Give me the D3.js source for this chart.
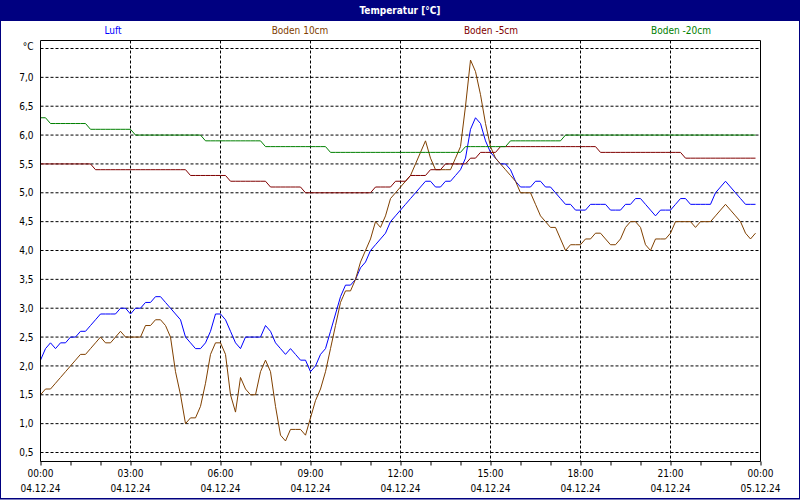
<!DOCTYPE html>
<html><head><meta charset="utf-8">
<script src="https://cdn.jsdelivr.net/npm/d3@7"></script>
<style>
html,body{margin:0;padding:0;background:#fff;}
svg{display:block;}
text{font-family:"DejaVu Sans Condensed","DejaVu Sans",sans-serif;font-stretch:condensed;font-size:10px;}
</style></head><body>
<svg id="chart" width="800" height="500"></svg>
<script>
const chartTitle = "Temperatur [°C]";
const seriesNames = ["Luft", "Boden 10cm", "Boden -5cm", "Boden -20cm"];
const seriesColors = ["#0000ff", "#804000", "#800000", "#008000"];
const sampleStepMinutes = 10;

const luft = [
 2.1,2.3,2.4,2.3,2.4,2.4,2.5,2.5,2.6,2.6,
 2.7,2.8,2.9,2.9,2.9,2.9,3.0,3.0,2.9,3.0,
 3.0,3.1,3.1,3.2,3.2,3.1,3.0,2.9,2.8,2.5,
 2.4,2.3,2.3,2.4,2.6,2.9,2.9,2.8,2.6,2.4,
 2.3,2.5,2.5,2.5,2.5,2.7,2.6,2.4,2.3,2.2,
 2.3,2.2,2.1,2.1,1.9,2.0,2.2,2.3,2.6,2.9,
 3.2,3.4,3.4,3.5,3.7,3.8,4.0,4.1,4.2,4.3,
 4.5,4.6,4.7,4.8,4.9,5.0,5.1,5.2,5.2,5.1,
 5.1,5.2,5.2,5.3,5.4,5.6,6.1,6.3,6.2,5.9,
 5.7,5.6,5.5,5.5,5.4,5.2,5.1,5.1,5.1,5.2,
 5.2,5.1,5.1,5.0,4.9,4.8,4.8,4.7,4.7,4.7,
 4.8,4.8,4.8,4.8,4.7,4.7,4.7,4.8,4.8,4.9,
 4.9,4.8,4.7,4.6,4.7,4.7,4.7,4.8,4.9,4.9,
 4.8,4.8,4.8,4.8,4.8,5.0,5.1,5.2,5.1,5.0,
 4.9,4.8,4.8,4.8
];
const boden10 = [
 1.5,1.6,1.6,1.7,1.8,1.9,2.0,2.1,2.2,2.2,
 2.3,2.4,2.5,2.4,2.4,2.5,2.6,2.5,2.5,2.5,
 2.5,2.7,2.7,2.8,2.8,2.7,2.5,1.9,1.5,1.0,
 1.1,1.1,1.3,1.7,2.2,2.4,2.4,2.2,1.5,1.2,
 1.8,1.6,1.5,1.5,1.9,2.1,1.9,1.3,0.8,0.7,
 0.9,0.9,0.9,0.8,1.1,1.4,1.6,1.9,2.3,2.7,
 3.1,3.3,3.3,3.5,3.8,4.0,4.2,4.5,4.4,4.6,
 4.9,5.0,5.1,5.2,5.3,5.5,5.7,5.9,5.6,5.4,
 5.4,5.4,5.4,5.6,5.8,6.5,7.3,7.1,6.7,6.2,
 5.8,5.6,5.5,5.4,5.3,5.2,5.0,5.0,5.0,4.8,
 4.6,4.5,4.4,4.4,4.2,4.0,4.1,4.1,4.1,4.2,
 4.2,4.3,4.3,4.2,4.1,4.1,4.2,4.4,4.5,4.5,
 4.4,4.1,4.0,4.2,4.2,4.2,4.3,4.5,4.5,4.5,
 4.5,4.4,4.5,4.5,4.5,4.6,4.7,4.8,4.7,4.6,
 4.5,4.3,4.2,4.3
];
const bodenMinus5 = [
 5.5,5.5,5.5,5.5,5.5,5.5,5.5,5.5,5.5,5.5,
 5.5,5.4,5.4,5.4,5.4,5.4,5.4,5.4,5.4,5.4,
 5.4,5.4,5.4,5.4,5.4,5.4,5.4,5.4,5.4,5.4,
 5.3,5.3,5.3,5.3,5.3,5.3,5.3,5.3,5.2,5.2,
 5.2,5.2,5.2,5.2,5.2,5.2,5.1,5.1,5.1,5.1,
 5.1,5.1,5.1,5.0,5.0,5.0,5.0,5.0,5.0,5.0,
 5.0,5.0,5.0,5.0,5.0,5.0,5.0,5.1,5.1,5.1,
 5.1,5.2,5.2,5.2,5.3,5.3,5.3,5.3,5.4,5.4,
 5.4,5.5,5.5,5.5,5.5,5.5,5.6,5.6,5.7,5.7,
 5.7,5.7,5.8,5.8,5.8,5.8,5.8,5.8,5.8,5.8,
 5.8,5.8,5.8,5.8,5.8,5.8,5.8,5.8,5.8,5.8,
 5.8,5.8,5.7,5.7,5.7,5.7,5.7,5.7,5.7,5.7,
 5.7,5.7,5.7,5.7,5.7,5.7,5.7,5.7,5.7,5.6,
 5.6,5.6,5.6,5.6,5.6,5.6,5.6,5.6,5.6,5.6,
 5.6,5.6,5.6,5.6
];
const bodenMinus20 = [
 6.3,6.3,6.2,6.2,6.2,6.2,6.2,6.2,6.2,6.2,
 6.1,6.1,6.1,6.1,6.1,6.1,6.1,6.1,6.1,6.0,
 6.0,6.0,6.0,6.0,6.0,6.0,6.0,6.0,6.0,6.0,
 6.0,6.0,6.0,5.9,5.9,5.9,5.9,5.9,5.9,5.9,
 5.9,5.9,5.9,5.9,5.9,5.8,5.8,5.8,5.8,5.8,
 5.8,5.8,5.8,5.8,5.8,5.8,5.8,5.8,5.7,5.7,
 5.7,5.7,5.7,5.7,5.7,5.7,5.7,5.7,5.7,5.7,
 5.7,5.7,5.7,5.7,5.7,5.7,5.7,5.7,5.7,5.7,
 5.7,5.7,5.7,5.7,5.7,5.8,5.8,5.8,5.8,5.8,
 5.8,5.8,5.8,5.8,5.9,5.9,5.9,5.9,5.9,5.9,
 5.9,5.9,5.9,5.9,5.9,6.0,6.0,6.0,6.0,6.0,
 6.0,6.0,6.0,6.0,6.0,6.0,6.0,6.0,6.0,6.0,
 6.0,6.0,6.0,6.0,6.0,6.0,6.0,6.0,6.0,6.0,
 6.0,6.0,6.0,6.0,6.0,6.0,6.0,6.0,6.0,6.0,
 6.0,6.0,6.0,6.0
];
const yTickValues = [0.5,1.0,1.5,2.0,2.5,3.0,3.5,4.0,4.5,5.0,5.5,6.0,6.5,7.0,7.5];
const yTickLabels = ["0,5","1,0","1,5","2,0","2,5","3,0","3,5","4,0","4,5","5,0","5,5","6,0","6,5","7,0","°C"];
const xMajorHours = [0,3,6,9,12,15,18,21,24];
const xTimeLabels = ["00:00","03:00","06:00","09:00","12:00","15:00","18:00","21:00","00:00"];
const xDateLabels = ["04.12.24","04.12.24","04.12.24","04.12.24","04.12.24","04.12.24","04.12.24","04.12.24","05.12.24"];

const allSeries = [luft, boden10, bodenMinus5, bodenMinus20];

const svg = d3.select("#chart");
const W = 800, H = 500;
const plotLeft = 40.5, plotRight = 760.5, plotTop = 40.5, plotBottom = 461.5;

const x = d3.scaleLinear().domain([0, 24 * 60]).range([plotLeft, plotRight]);
const y = d3.scaleLinear().domain([0.5, 7.5]).range([452.5, 48.5]);

// background + title bar
svg.append("rect").attr("x",0).attr("y",0).attr("width",W).attr("height",H).attr("fill","#fff");
svg.append("rect").attr("x",0).attr("y",0).attr("width",W).attr("height",21).attr("fill","#000080");
svg.append("rect").attr("x",0.5).attr("y",0.5).attr("width",W-1).attr("height",H-1.5)
  .attr("fill","none").attr("stroke","#000080").attr("stroke-width",1);
svg.append("line").attr("x1",0).attr("x2",W).attr("y1",498.5).attr("y2",498.5).attr("stroke","#000080");
svg.append("text").attr("x",W/2).attr("y",14).attr("text-anchor","middle")
  .attr("fill","#fff").attr("font-weight","bold").text(chartTitle);

// legend
const legendX = [113, 300, 491, 681];
seriesNames.forEach((n,i)=>{
  svg.append("text").attr("x",legendX[i]).attr("y",34).attr("text-anchor","middle")
    .attr("fill",seriesColors[i]).text(n);
});

// grid
const grid = svg.append("g");
grid.selectAll("line.h").data(yTickValues).enter().append("line")
  .attr("x1",plotLeft).attr("x2",plotRight)
  .attr("y1",d=>y(d)).attr("y2",d=>y(d))
  .attr("stroke","#000").attr("stroke-dasharray","3,2");
grid.selectAll("line.v").data(xMajorHours.slice(1,-1)).enter().append("line")
  .attr("x1",d=>x(d*60)).attr("x2",d=>x(d*60))
  .attr("y1",plotTop).attr("y2",plotBottom)
  .attr("stroke","#000").attr("stroke-dasharray","3,2");

// y axis labels
const yAxis = d3.axisLeft(y).tickValues(yTickValues).tickSize(0).tickPadding(7)
  .tickFormat((d,i)=>yTickLabels[i]);
const yg = svg.append("g").attr("transform",`translate(${plotLeft},0)`).call(yAxis);
yg.select(".domain").remove();
yg.selectAll("text").attr("font-size",null).attr("font-family",null).attr("fill","#000");
yg.selectAll(".tick").filter(d=>d===7.5).select("text").attr("dy","0.05em");

// x axis ticks (hourly)
const xAxis = d3.axisBottom(x).tickValues(d3.range(0,25).map(h=>h*60)).tickSize(4).tickFormat("");
const xg = svg.append("g").attr("transform",`translate(0,${plotBottom})`).call(xAxis);
xg.select(".domain").remove();
xg.selectAll(".tick line").attr("stroke","#000");

// x labels
xMajorHours.forEach((h,i)=>{
  svg.append("text").attr("x",x(h*60)).attr("y",477).attr("text-anchor","middle").attr("fill","#000").text(xTimeLabels[i]);
  svg.append("text").attr("x",x(h*60)).attr("y",492).attr("text-anchor","middle").attr("fill","#000").text(xDateLabels[i]);
});

// series lines
const line = d3.line().x((d,i)=>x(i*sampleStepMinutes)).y(d=>y(d));
allSeries.forEach((s,k)=>{
  svg.append("path").datum(s).attr("d",line).attr("fill","none")
    .attr("stroke",seriesColors[k]).attr("stroke-width",1);
});

// frame
svg.append("line").attr("x1",plotLeft).attr("x2",plotLeft).attr("y1",plotTop).attr("y2",plotBottom).attr("stroke","#000");
svg.append("line").attr("x1",plotRight).attr("x2",plotRight).attr("y1",plotTop).attr("y2",plotBottom).attr("stroke","#000");
svg.append("line").attr("x1",plotLeft).attr("x2",plotRight).attr("y1",plotBottom).attr("y2",plotBottom).attr("stroke","#000");
svg.append("line").attr("x1",plotLeft).attr("x2",plotRight).attr("y1",plotTop).attr("y2",plotTop).attr("stroke","#000");
</script>
</body></html>
